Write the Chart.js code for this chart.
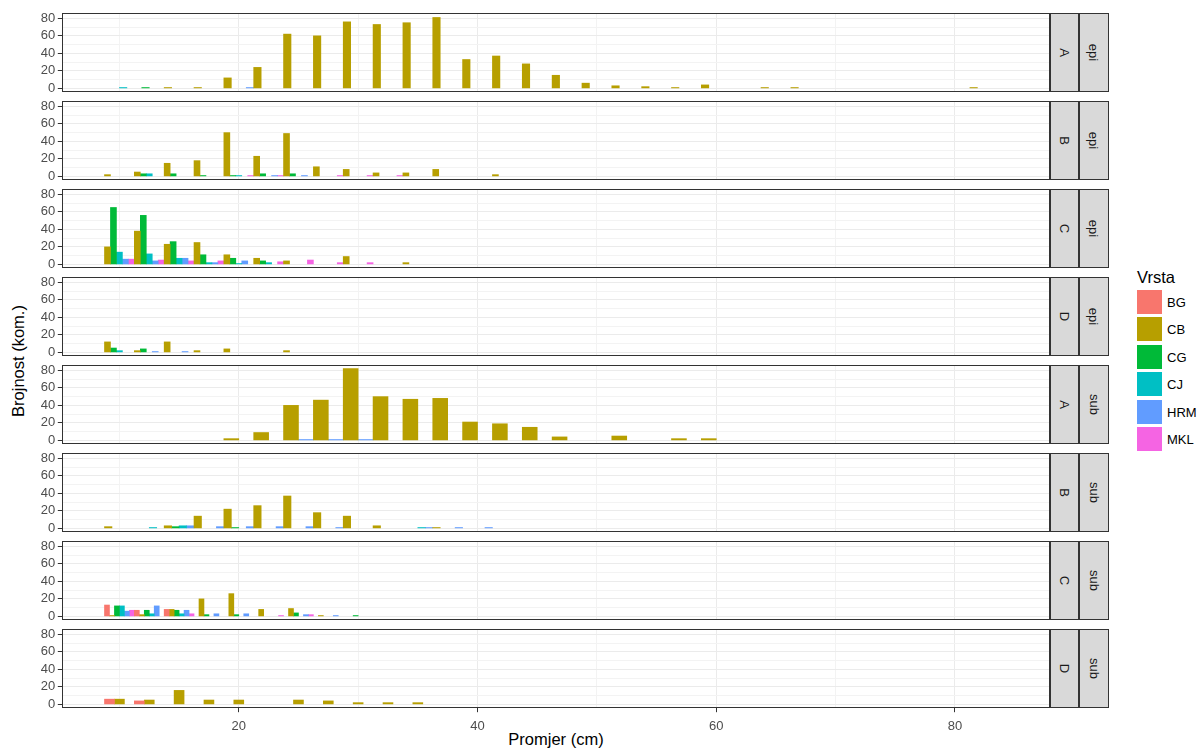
<!DOCTYPE html>
<html>
<head>
<meta charset="utf-8">
<script src="https://cdn.jsdelivr.net/npm/chart.js@4.4.1/dist/chart.umd.min.js"></script>
<style>
html,body{margin:0;padding:0;background:#fff;}
body{width:1204px;height:749px;position:relative;overflow:hidden;font-family:"Liberation Sans",Arial,sans-serif;}
.panel{position:absolute;left:0;}
.strip{position:absolute;box-sizing:border-box;background:#D9D9D9;border:1px solid #333333;display:flex;align-items:center;justify-content:center;}
.strip span{display:block;transform:rotate(90deg);font-size:13px;color:#1A1A1A;white-space:nowrap;line-height:1;}
#ytitle{position:absolute;left:18px;top:361px;transform:translate(-50%,-50%) rotate(-90deg);font-size:16.5px;white-space:nowrap;color:#000;line-height:1;}
#xtitle{position:absolute;left:556px;top:739px;transform:translate(-50%,-50%);font-size:16.5px;white-space:nowrap;color:#000;line-height:1;}
.ltitle{position:absolute;left:1137px;top:269px;font-size:16.5px;line-height:16.5px;color:#000;white-space:nowrap;}
.lkey{position:absolute;left:1137px;width:25px;height:24px;}
.llab{position:absolute;left:1167px;font-size:13px;line-height:24px;height:24px;color:#000;white-space:nowrap;}
</style>
</head>
<body>
<div id="ytitle">Brojnost (kom.)</div>
<div id="xtitle">Promjer (cm)</div>
<script>
// ---------------- DATA ----------------
const species = ["BG", "CB", "CG", "CJ", "HRM", "MKL"];
const speciesColors = ["#F8766D", "#B79F00", "#00BA38", "#00BFC4", "#619CFF", "#F564E3"];
const legendTitle = "Vrsta";
const bins = [10, 12.5, 15, 17.5, 20, 22.5, 25, 27.5, 30, 32.5, 35, 37.5, 40, 42.5, 45,
              47.5, 50, 52.5, 55, 57.5, 60, 62.5, 65, 67.5, 70, 72.5, 75, 77.5, 80, 82.5];
const binWidth = 2.5;
const facetRows = ["A", "B", "C", "D", "A", "B", "C", "D"];
const facetCols = ["epi", "epi", "epi", "epi", "sub", "sub", "sub", "sub"];
const yTickValues = [0, 10, 20, 30, 40, 50, 60, 70, 80];   // labels on 0,20,40,60,80
const xTickValues = [10, 20, 30, 40, 50, 60, 70, 80];       // labels on 20,40,60,80

// counts per bin (aligned with bins; missing trailing values = 0)
// epi / A
const epiA_CB  = [0,0,1,1,12,24,62,60,76,73,75,81,33,37,28,15,6,3,2,1,4,0,1,1,0,0,0,0,0,1];
const epiA_CG  = [0,1];
const epiA_CJ  = [1];
const epiA_HRM = [0,0,0,0,1];
// epi / B
const epiB_CB  = [2,5,15,18,50,23,49,11,8,4,4,8,0,2];
const epiB_CG  = [0,3,3,1,1,3,3];
const epiB_CJ  = [0,3,0,0,1];
const epiB_HRM = [0,0,0,0,0,1,1];
const epiB_MKL = [0,0,0,0,1,1,0,1,1,1];
// epi / C
const epiC_CB  = [20,38,23,25,11,7,4,0,9,0,2];
const epiC_CG  = [65,56,26,11,7,4];
const epiC_CJ  = [14,12,7,2,1,2];
const epiC_HRM = [6,4,7,2,4];
const epiC_MKL = [6,5,4,4,0,3,5,2,2];
// epi / D
const epiD_CB  = [12,2,12,2,4,0,2];
const epiD_CG  = [5,4];
const epiD_CJ  = [2];
const epiD_HRM = [0,1,1];
const epiD_MKL = [];
// sub / A
const subA_CB  = [0,0,0,0,2,9,40,46,82,50,47,48,21,19,15,4,0,5,0,2,2];
const subA_HRM = [0,0,0,0,0,0,1,1,1];
// sub / B
const subB_CB  = [2,0,3,14,22,26,37,18,14,3,0,1];
const subB_CG  = [0,0,2,0,1];
const subB_CJ  = [0,1,3,0,0,0,0,0,0,0,1];
const subB_HRM = [0,0,3,2,2,2,2,1,0,0,1,1,1];
// sub / C
const subC_BG  = [13,7,8];
const subC_CB  = [1,2,8,20,26,8,9,1];
const subC_CG  = [12,7,7,2,2,0,4,0,1];
const subC_CJ  = [12,3,3];
const subC_HRM = [6,12,7,3,3,0,2,1];
const subC_MKL = [7,0,3,0,0,1,2];
// sub / D
const subD_BG  = [6,4];
const subD_CB  = [6,5,16,5,5,0,5,4,2,2,2];
const subD_HRM = [];

const panelData = [
  {CB: epiA_CB, CG: epiA_CG, CJ: epiA_CJ, HRM: epiA_HRM},
  {CB: epiB_CB, CG: epiB_CG, CJ: epiB_CJ, HRM: epiB_HRM, MKL: epiB_MKL},
  {CB: epiC_CB, CG: epiC_CG, CJ: epiC_CJ, HRM: epiC_HRM, MKL: epiC_MKL},
  {CB: epiD_CB, CG: epiD_CG, CJ: epiD_CJ, HRM: epiD_HRM, MKL: epiD_MKL},
  {CB: subA_CB, HRM: subA_HRM},
  {CB: subB_CB, CG: subB_CG, CJ: subB_CJ, HRM: subB_HRM},
  {BG: subC_BG, CB: subC_CB, CG: subC_CG, CJ: subC_CJ, HRM: subC_HRM, MKL: subC_MKL},
  {BG: subD_BG, CB: subD_CB, HRM: subD_HRM}
];

// ---------------- LAYOUT ----------------
const XMIN = 5.19, XMAX = 87.96, YMIN = -4.1, YMAX = 86.1;
const PL = 62, PR = 1050, PH = 79, PAD = 9, XAH = 32, CW = 1052;
const panelTop = i => Math.round(13 + 87.95 * i);
const isMajor = v => Math.abs(v % 20) < 1e-9;
const FONT = {family: '"Liberation Sans", Arial, sans-serif', size: 13};

const borderPlugin = {
  id: 'panelBorder',
  afterDraw(chart) {
    const a = chart.chartArea, c = chart.ctx;
    c.save();
    c.strokeStyle = '#333333';
    c.lineWidth = 1;
    c.strokeRect(Math.round(a.left) + 0.5, Math.round(a.top) + 0.5,
                 Math.round(a.right - a.left) - 1, Math.round(a.bottom - a.top) - 1);
    c.restore();
  }
};

const gridColor = ctx => (ctx.tick && isMajor(ctx.tick.value)) ? '#EBEBEB' : '#F3F3F3';
const tickColor = ctx => (ctx.tick && isMajor(ctx.tick.value)) ? '#333333' : 'rgba(0,0,0,0)';

panelData.forEach((pd, p) => {
  const last = p === panelData.length - 1;
  const top = panelTop(p);
  const H = PAD + PH + (last ? XAH : PAD);
  const canvas = document.createElement('canvas');
  canvas.className = 'panel';
  canvas.width = CW; canvas.height = H;
  canvas.style.width = CW + 'px'; canvas.style.height = H + 'px';
  canvas.style.top = (top - PAD) + 'px';
  document.body.appendChild(canvas);

  // dodge like ggplot: every species present in the panel gets a slot in each bin
  const present = species.filter(s => pd[s] !== undefined);
  const n = present.length;
  const pxPerCm = (PR - PL) / (XMAX - XMIN);
  const datasets = present.map((s, r) => ({
    label: s,
    data: bins.map((b, i) => ({x: b + binWidth * ((r + 0.5) / n - 0.5), y: pd[s][i] || 0}))
              .filter(pt => pt.y > 0),
    backgroundColor: speciesColors[species.indexOf(s)],
    borderWidth: 0,
    grouped: false,
    barThickness: binWidth / n * pxPerCm
  }));

  new Chart(canvas, {
    type: 'bar',
    data: {datasets},
    options: {
      responsive: false,
      animation: false,
      events: [],
      layout: {padding: {left: 0, right: CW - PR, top: PAD, bottom: last ? 0 : PAD}},
      plugins: {legend: {display: false}, tooltip: {enabled: false}},
      scales: {
        x: {
          type: 'linear', min: XMIN, max: XMAX, offset: false,
          afterBuildTicks: s => { s.ticks = xTickValues.map(v => ({value: v})); },
          afterFit: s => { s.height = last ? XAH : 0; s.paddingLeft = 0; s.paddingRight = 0; },
          grid: {offset: false, color: gridColor, lineWidth: 1, drawTicks: last, tickLength: 4.2, tickColor: tickColor},
          border: {display: false},
          ticks: {display: last, autoSkip: false, maxRotation: 0, padding: 6, font: FONT, color: '#4D4D4D',
                  callback: v => isMajor(v) ? String(v) : ''}
        },
        y: {
          type: 'linear', min: YMIN, max: YMAX,
          afterBuildTicks: s => { s.ticks = yTickValues.map(v => ({value: v})); },
          afterFit: s => { s.width = PL; s.paddingTop = 0; s.paddingBottom = 0; },
          grid: {color: gridColor, lineWidth: 1, drawTicks: true, tickLength: 4.2, tickColor: tickColor},
          border: {display: false},
          ticks: {autoSkip: false, padding: 2.5, font: FONT, color: '#4D4D4D',
                  callback: v => isMajor(v) ? String(v) : ''}
        }
      }
    },
    plugins: [borderPlugin]
  });

  // facet strips
  [[1050, 29, facetRows[p]], [1079, 30, facetCols[p]]].forEach(([l, w, txt]) => {
    const d = document.createElement('div');
    d.className = 'strip';
    d.style.left = l + 'px'; d.style.top = top + 'px';
    d.style.width = w + 'px'; d.style.height = PH + 'px';
    const sp = document.createElement('span');
    sp.textContent = txt;
    d.appendChild(sp);
    document.body.appendChild(d);
  });
});

// legend
const lt = document.createElement('div');
lt.className = 'ltitle'; lt.textContent = legendTitle;
document.body.appendChild(lt);
species.forEach((s, i) => {
  const y = 290 + 27.4 * i;
  const k = document.createElement('div');
  k.className = 'lkey'; k.style.top = y + 'px'; k.style.background = speciesColors[i];
  document.body.appendChild(k);
  const l = document.createElement('div');
  l.className = 'llab'; l.style.top = (y + 1) + 'px'; l.textContent = s;
  document.body.appendChild(l);
});
</script>
</body>
</html>
